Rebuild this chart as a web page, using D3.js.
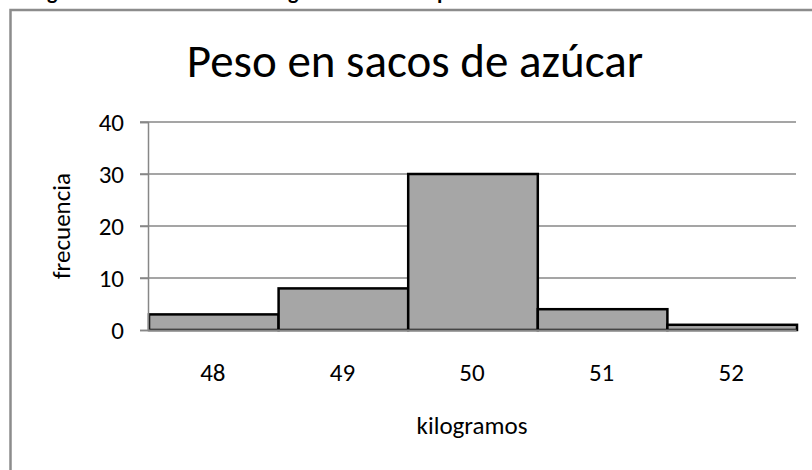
<!DOCTYPE html>
<html>
<head>
<meta charset="utf-8">
<script src="https://cdn.jsdelivr.net/npm/d3@7"></script>
<style>
  html, body { margin: 0; padding: 0; background: #fff; }
  svg { display: block; }
  text { font-family: Calibri, Carlito, Lato, sans-serif; fill: #000; }
</style>
</head>
<body>
<script>
const title = "Peso en sacos de azúcar";
const xTitle = "kilogramos";
const yTitle = "frecuencia";
const categories = ["48", "49", "50", "51", "52"];
const frequencies = [3, 8, 30, 4, 1];
const yTicks = [0, 10, 20, 30, 40];
// clipped caption above the chart frame (only descenders are visible)
const captionGlyphs = [{ch: "g", x: 47}, {ch: "g", x: 288}, {ch: "p", x: 437}];

const W = 812, H = 470;
const svg = d3.select("body").append("svg").attr("width", W).attr("height", H);

// chart frame
svg.append("rect")
  .attr("x", 10.5).attr("y", 10).attr("width", W + 20).attr("height", H + 20)
  .attr("fill", "#fff").attr("stroke", "#8c8c8c").attr("stroke-width", 2.5);

// clipped caption glyphs
svg.selectAll("text.cap").data(captionGlyphs).enter().append("text")
  .attr("class", "cap")
  .attr("x", d => d.x).attr("y", -1)
  .style("font-size", "22px").style("font-weight", "bold")
  .text(d => d.ch);

const plot = {left: 148, right: 796, top: 122, bottom: 330};

const x = d3.scaleBand().domain(categories).range([plot.left, plot.right]).padding(0);
const y = d3.scaleLinear().domain([0, 40]).range([plot.bottom, plot.top]);

// gridlines
svg.append("g").selectAll("line").data(yTicks.filter(d => d > 0)).enter().append("line")
  .attr("x1", plot.left - 8).attr("x2", plot.right)
  .attr("y1", d => y(d)).attr("y2", d => y(d))
  .attr("stroke", "#878787").attr("stroke-width", 1.5);

// bars
svg.append("g").selectAll("rect").data(frequencies).enter().append("rect")
  .attr("x", (d, i) => x(categories[i]) + 1)
  .attr("width", x.bandwidth())
  .attr("y", d => y(d))
  .attr("height", d => plot.bottom - y(d))
  .attr("fill", "#a6a6a6")
  .attr("stroke", "#000").attr("stroke-width", 2.5);

// y axis
const yAxis = d3.axisLeft(y).tickValues(yTicks).tickSize(8).tickPadding(16);
const gy = svg.append("g").attr("transform", `translate(${plot.left},0)`).call(yAxis);
gy.select(".domain").attr("stroke", "#878787").attr("stroke-width", 1.5);
gy.selectAll(".tick line").attr("stroke", "#878787").attr("stroke-width", 1.5);
gy.selectAll(".tick text").style("font-size", "25px")
  .style("font-family", "Calibri, Carlito, Lato, sans-serif").attr("dy", "0.33em");

// x axis
const xAxis = d3.axisBottom(x).tickSize(0).tickPadding(33);
const gx = svg.append("g").attr("transform", `translate(0,${plot.bottom})`).call(xAxis);
gx.select(".domain").attr("stroke", "#878787").attr("stroke-width", 2);
gx.selectAll(".tick text").style("font-size", "25px")
  .style("font-family", "Calibri, Carlito, Lato, sans-serif");

// titles
svg.append("text").attr("x", 415).attr("y", 77).attr("text-anchor", "middle")
  .style("font-size", "47px").text(title);
svg.append("text").attr("x", (plot.left + plot.right) / 2).attr("y", 434)
  .attr("text-anchor", "middle").style("font-size", "25px").text(xTitle);
svg.append("text")
  .attr("transform", `translate(70,${(plot.top + plot.bottom) / 2}) rotate(-90)`)
  .attr("text-anchor", "middle").style("font-size", "25px").text(yTitle);
</script>
</body>
</html>
